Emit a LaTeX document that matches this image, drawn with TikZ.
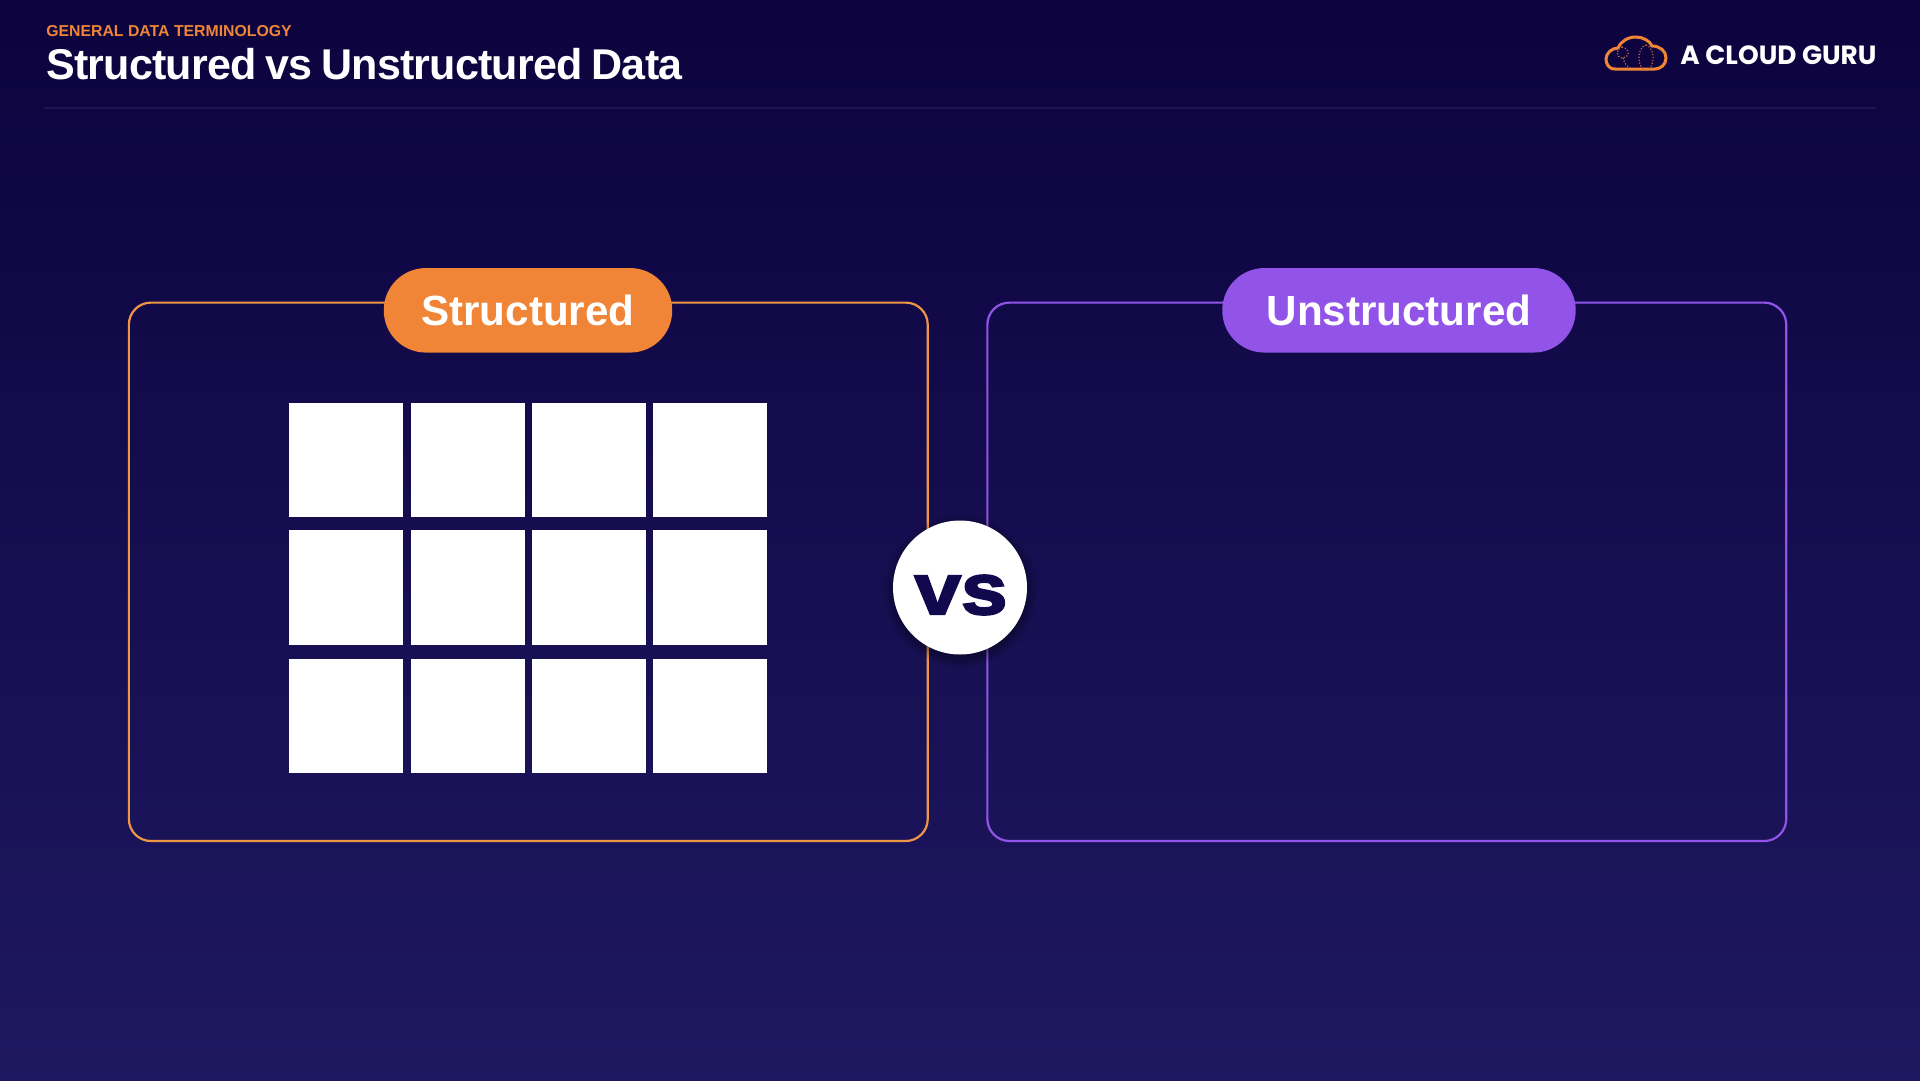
\documentclass[tikz,border=0pt]{standalone}
\usepackage{fontspec}
\usetikzlibrary{shadows}
\setmainfont{Liberation Sans}
\newfontfamily\logofont{Poppins}
\newfontfamily\titlefont{Liberation Sans Bold}[LetterSpace=-1.9,WordSpace=0.8]
\newfontfamily\vsfont{Liberation Sans Bold}[FakeStretch=1.16,FakeBold=3]
\definecolor{bgtop}{RGB}{12,3,62}
\definecolor{bgbottom}{RGB}{30,24,96}
\definecolor{rulecol}{RGB}{30,22,84}
\definecolor{acgorange}{RGB}{240,132,55}
\definecolor{acgline}{RGB}{238,150,70}
\definecolor{acgpurple}{RGB}{146,84,232}
\definecolor{vscol}{RGB}{18,8,78}
\tikzset{
  panel/.style={draw=#1, line width=2.2*0.02cm, rounded corners=0.44cm, minimum width=15.98cm, minimum height=10.77cm, inner sep=0pt},
  pill/.style={fill=#1, rounded corners=0.84cm, minimum height=1.69cm, inner sep=0pt, text=white, font=\fontsize{24pt}{28pt}\selectfont\bfseries},
  cell/.style={fill=white, minimum size=2.29cm, inner sep=0pt},
}
\begin{document}
\begin{tikzpicture}[x=0.02cm,y=-0.02cm]
\useasboundingbox (0,0) rectangle (1920,1080);
\shade [top color=bgtop,bottom color=bgbottom] (0,0) rectangle (1920,1080);

% header
\node [anchor=base west,inner sep=0pt,text=acgorange,font=\fontsize{9pt}{10pt}\selectfont\bfseries] (kicker) at (46,36.5) {GENERAL DATA TERMINOLOGY};
\node [anchor=base west,inner sep=0pt,text=white,font=\fontsize{24.5pt}{28pt}\titlefont] (title) at (46,79) {Structured vs Unstructured Data};
\draw [rulecol,line width=0.04cm] (44,108) -- (1876,108);

% logo
\draw [acgorange,line width=0.06cm] (1615,69) .. controls (1608,69) and (1606,63) .. (1606,59) .. controls (1606,53) and (1612,48) .. (1618,48) .. controls (1621,41) and (1628,37) .. (1636,37) .. controls (1643,37) and (1650,41) .. (1652,46) .. controls (1660,46) and (1666,51) .. (1666,58) .. controls (1666,65) and (1660,69) .. (1655,69) -- cycle;
\draw [acgorange!80!bgtop,line width=0.024cm,densely dotted] (1646,45) .. controls (1656,48) and (1655,68) .. (1646,71) .. controls (1637,68) and (1636,48) .. (1646,45);
\draw [acgorange!80!bgtop,line width=0.024cm,densely dotted] (1622,47) .. controls (1632,50) and (1628,58) .. (1623,58) .. controls (1616,58) and (1615,49) .. (1622,47) (1623,58) .. controls (1624,62) and (1626,66) .. (1630,68);
\node [anchor=base west,inner sep=0pt,text=white,font=\fontsize{15pt}{18pt}\logofont\bfseries] (logo) at (1680,64.8) {A CLOUD GURU};

% panels
\node [panel=acgline] (structuredbox) at (528.3,571.8) {};
\node [panel=acgpurple] (unstructuredbox) at (1386.8,571.8) {};
\node [pill=acgorange,minimum width=5.77cm] (structuredlabel) at (528,310.3) {Structured};
\node [pill=acgpurple,minimum width=7.07cm] (unstructuredlabel) at (1399,310.3) {Unstructured};

% table
\node [cell] (c11) at (346,460) {};
\node [cell] (c12) at (468,460) {};
\node [cell] (c13) at (589,460) {};
\node [cell] (c14) at (710,460) {};
\node [cell] (c21) at (346,587.5) {};
\node [cell] (c22) at (468,587.5) {};
\node [cell] (c23) at (589,587.5) {};
\node [cell] (c24) at (710,587.5) {};
\node [cell] (c31) at (346,716) {};
\node [cell] (c32) at (468,716) {};
\node [cell] (c33) at (589,716) {};
\node [cell] (c34) at (710,716) {};

% versus
\node [circle,fill=white,minimum size=2.68cm,inner sep=0pt,circular drop shadow={shadow xshift=0cm,shadow yshift=-0.06cm,shadow scale=1.14,opacity=0.35,fill=black}] (versus) at (960,587.5) {};
\node [text=vscol,inner sep=0pt,font=\fontsize{41pt}{44pt}\vsfont] (versustext) at (961,595) {vs};
\end{tikzpicture}
\end{document}
